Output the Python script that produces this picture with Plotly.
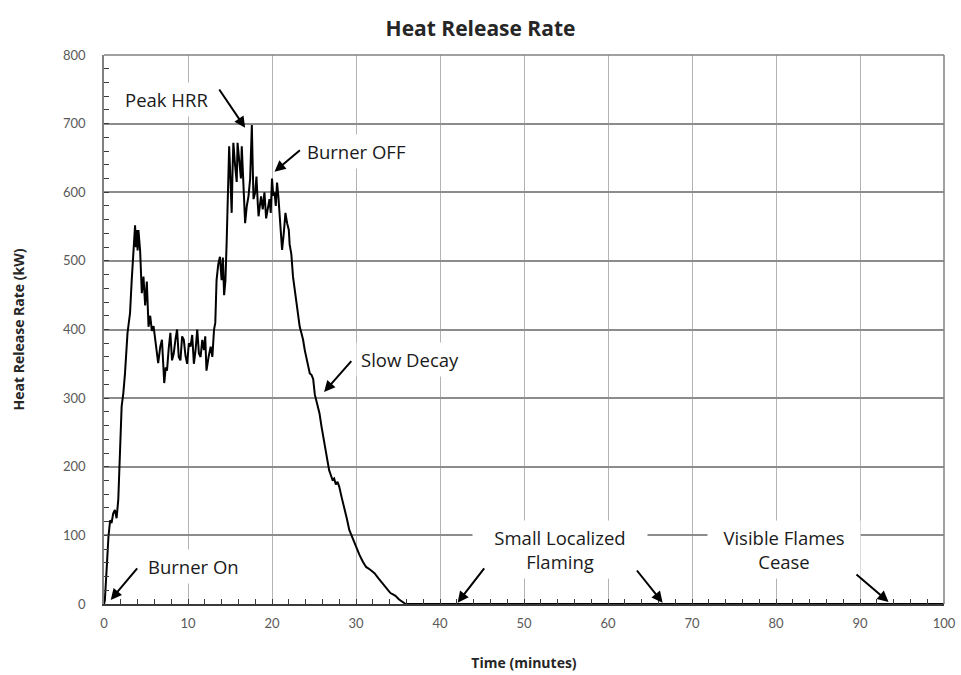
import plotly.graph_objects as go

# Heat release rate measurement (time in minutes, HRR in kW)
time_min = [
    0, 0.1, 0.33, 0.53, 0.73, 0.9, 1.1, 1.3, 1.5, 1.7, 1.84, 1.96, 2.1, 2.3, 2.5, 2.8,
    3.1, 3.3, 3.5, 3.7, 3.8, 3.9, 4.0, 4.1, 4.3, 4.5, 4.7, 4.9, 5.1, 5.3, 5.5, 5.7,
    5.9, 6.1, 6.3, 6.45, 6.7, 6.9, 7.05, 7.17, 7.35, 7.5, 7.7, 7.9, 8.1, 8.3, 8.5, 8.7,
    8.9, 9.1, 9.3, 9.5, 9.7, 9.9, 10.1, 10.3, 10.5, 10.7, 10.9, 11.1, 11.3, 11.5, 11.7,
    11.9, 12.05, 12.2, 12.45, 12.7, 12.9, 13.1, 13.25, 13.4, 13.6, 13.8, 14.0, 14.15,
    14.3, 14.45, 14.6, 14.75, 14.9, 15.05, 15.2, 15.3, 15.4, 15.6, 15.8, 15.9, 16.1,
    16.3, 16.4, 16.5, 16.6, 16.8, 17.0, 17.2, 17.4, 17.5, 17.6, 17.7, 17.8, 18.0, 18.15,
    18.3, 18.4, 18.55, 18.7, 18.9, 19.1, 19.3, 19.5, 19.7, 19.85, 20.0, 20.15, 20.3,
    20.45, 20.6, 20.75, 20.9, 21.05, 21.2, 21.4, 21.6, 21.8, 22.0, 22.1, 22.3, 22.5,
    22.7, 22.9, 23.1, 23.3, 23.5, 23.7, 23.9, 24.1, 24.3, 24.5, 24.7, 24.9, 25.1, 25.4,
    25.65, 25.9, 26.2, 26.5, 26.8, 27.0, 27.2, 27.4, 27.6, 27.8, 28.0, 28.3, 28.6, 28.9,
    29.2, 29.6, 30.0, 30.4, 30.8, 31.2, 31.7, 32.2, 32.7, 33.2, 33.6, 34.1, 34.4, 34.7,
    35.1, 35.5, 35.9, 40, 60, 80, 100,
]
hrr_kw = [
    0, 5, 54, 98, 122, 118, 132, 137, 125, 152, 200, 249, 288, 307, 336, 395,
    424, 472, 511, 552, 520, 545, 515, 545, 515, 453, 477, 435, 470, 404, 420, 398,
    405, 385, 372, 351, 375, 385, 350, 322, 345, 340, 372, 395, 355, 365, 385, 400,
    360, 355, 390, 385, 362, 350, 380, 375, 392, 350, 370, 400, 365, 360, 385,
    370, 390, 340, 360, 375, 360, 400, 410, 472, 495, 506, 472, 505,
    450, 470, 526, 600, 667, 620, 570, 630, 672, 640, 615, 672, 650,
    620, 667, 640, 608, 555, 580, 594, 620, 650, 698, 640, 590, 600, 623,
    585, 565, 580, 594, 575, 600, 562, 575, 590, 570, 620, 595, 600,
    580, 614, 595, 570, 545, 516, 540, 570, 555, 545, 524, 510, 477,
    460, 443, 425, 404, 395, 385, 370, 360, 350, 336, 334, 328, 305, 290,
    278, 258, 235, 215, 195, 188, 181, 183, 174, 178, 171, 155, 142, 125,
    108, 95, 84, 72, 62, 54, 50, 45, 37, 30, 24, 16, 14, 12,
    7, 3, 0, 0, 0, 0, 0,
]

x_ticks = [0, 10, 20, 30, 40, 50, 60, 70, 80, 90, 100]
y_ticks = [0, 100, 200, 300, 400, 500, 600, 700, 800]

# Event labels: text, x, y, box width (None = fit to text)
labels = [
    ("Peak HRR", 7.4, 735, None),
    ("Burner OFF", 30.0, 659, None),
    ("Slow Decay", 36.4, 356, None),
    ("Burner On", 10.7, 55, None),
    ("Small Localized<br>Flaming", 54.3, 79, 166),
    ("Visible Flames<br>Cease", 80.9, 79, 144),
]
# Arrows: tail (x, y) -> head (x, y)
arrows = [
    (13.6, 752, 16.8, 694),
    (23.5, 663, 20.3, 630),
    (29.6, 356, 26.2, 309),
    (4.1, 54, 0.8, 6),
    (45.4, 54, 42.1, 2),
    (63.3, 51, 66.5, 2),
    (89.4, 45, 93.4, 3),
]

FONT = "Open Sans"
TICK_FONT = "Lato"
AXIS_TEXT = "#595959"

fig = go.Figure()
fig.add_trace(go.Scatter(
    x=time_min, y=hrr_kw, mode="lines",
    line=dict(color="black", width=2),
    showlegend=False, hoverinfo="skip",
))

for text, lx, ly, w in labels:
    fig.add_annotation(
        x=lx, y=ly, xref="x", yref="y", text=text, showarrow=False,
        font=dict(family=FONT, size=18.5, color="#1a1a1a"),
        bgcolor="white", borderpad=4, width=w, align="center",
    )

for tx, ty, hx, hy in arrows:
    fig.add_annotation(
        x=hx, y=hy, ax=tx, ay=ty, xref="x", yref="y", axref="x", ayref="y",
        text="", showarrow=True, arrowhead=2, arrowsize=1.1, arrowwidth=2,
        arrowcolor="black", standoff=0, startstandoff=0,
    )

# Top and right frame lines
fig.add_shape(type="line", xref="paper", yref="paper", x0=0, x1=1, y0=1, y1=1,
              line=dict(color="#808080", width=1.5), layer="above")
fig.add_shape(type="line", xref="paper", yref="paper", x0=1, x1=1, y0=0, y1=1,
              line=dict(color="#808080", width=1.5), layer="above")

fig.update_layout(
    width=961, height=675,
    margin=dict(l=104, r=17, t=55, b=71, autoexpand=False),
    paper_bgcolor="white", plot_bgcolor="white",
    title=dict(text="<b>Heat Release Rate</b>", x=0.5, xanchor="center",
               y=0.958, yanchor="middle",
               font=dict(family=FONT, size=21, color="#262626")),
    font=dict(family=FONT),
)

fig.update_xaxes(
    range=[0, 100], tickvals=x_ticks, automargin=False,
    showgrid=True, gridcolor="#b4b4b4", gridwidth=1,
    showline=True, linecolor="#3a3a3a", linewidth=2,
    ticks="inside", ticklen=5, tickcolor="#3a3a3a", tickwidth=1,
    minor=dict(dtick=2, ticks="inside", ticklen=5, tickcolor="#3a3a3a", showgrid=False),
    tickfont=dict(family=TICK_FONT, size=13, color=AXIS_TEXT),
    ticklabelstandoff=6,
    zeroline=False,
    title=dict(text="<b>Time (minutes)</b>", standoff=29,
               font=dict(family=FONT, size=14, color="#262626")),
)
fig.update_yaxes(
    range=[0, 800], tickvals=y_ticks, automargin=False,
    showgrid=True, gridcolor="#8c8c8c", gridwidth=1.5,
    showline=True, linecolor="#808080", linewidth=1.5,
    ticks="inside", ticklen=5, tickcolor="#3a3a3a", tickwidth=1,
    minor=dict(dtick=20, ticks="inside", ticklen=5, tickcolor="#3a3a3a", showgrid=False),
    tickfont=dict(family=TICK_FONT, size=13, color=AXIS_TEXT),
    ticklabelstandoff=14,
    zeroline=False,
    title=dict(text="<b>Heat Release Rate (kW)</b>", standoff=35,
               font=dict(family=FONT, size=14, color="#262626")),
)

fig.write_html("out.html")
